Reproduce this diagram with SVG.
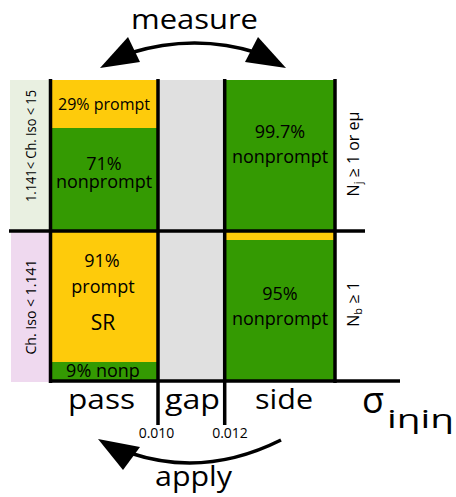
<svg xmlns="http://www.w3.org/2000/svg" width="456" height="497" viewBox="0 0 456 497">
<style>
text{font-family:"Open Sans","DejaVu Sans",sans-serif;fill:#000}
.ln{stroke:#000;stroke-width:3.5;fill:none}
.arc{stroke:#000;stroke-width:3.5;fill:none}
.yel{fill:#fecb0b}
.grn{fill:#349a02}
.big{font-size:28px;text-anchor:middle}
.box{font-size:18px;text-anchor:middle}
.sm{font-size:14px;text-anchor:middle}
</style>
<rect width="456" height="497" fill="#fff"/>
<g id="bg-left-top"><rect x="10" y="80" width="40" height="151" fill="#e9f0e1"/>
<text class="sm" font-size="15" transform="translate(36,146) rotate(-90)" textLength="112" lengthAdjust="spacingAndGlyphs">1.141&lt; Ch. Iso &lt; 15</text></g>
<g id="bg-left-bottom"><rect x="11" y="231" width="39" height="151" fill="#efd9ef"/>
<text class="sm" font-size="15" transform="translate(36,307) rotate(-90)" textLength="95" lengthAdjust="spacingAndGlyphs">Ch. Iso &lt; 1.141</text></g>
<g id="pass-top">
<rect class="yel" x="51" y="80" width="107" height="48"/>
<rect class="grn" x="51" y="128" width="107" height="103"/>
<text x="104" y="110" text-anchor="middle" font-size="16">29% prompt</text>
<text class="box" x="104" y="170">71%</text>
<text class="box" x="104" y="188">nonprompt</text>
</g>
<g id="pass-bottom">
<rect class="yel" x="51" y="231" width="107" height="131"/>
<rect class="grn" x="51" y="362" width="107" height="19"/>
<text class="box" x="102" y="267">91%</text>
<text class="box" x="103" y="293">prompt</text>
<text x="103" y="330" text-anchor="middle" font-size="21">SR</text>
<text class="box" x="103" y="377">9% nonp</text>
</g>
<g id="gap"><rect x="158" y="80" width="67" height="301" fill="#e0e0e0"/></g>
<g id="side-top">
<rect class="grn" x="225" y="80" width="110" height="151"/>
<text class="box" x="280" y="138">99.7%</text>
<text class="box" x="280" y="163">nonprompt</text>
</g>
<g id="side-bottom">
<rect class="yel" x="225" y="231" width="110" height="9"/>
<rect class="grn" x="225" y="240" width="110" height="141"/>
<text class="box" x="280" y="300">95%</text>
<text class="box" x="280" y="325">nonprompt</text>
</g>
<g id="label-right-top"><text font-size="16" text-anchor="middle" transform="translate(359,154) rotate(-90)">N<tspan font-size="11" dy="3">j</tspan><tspan dy="-3"> ≥ 1 or eμ</tspan></text></g>
<g id="label-right-bottom"><text font-size="16" text-anchor="middle" transform="translate(359,304) rotate(-90)">N<tspan font-size="11" dy="3">b</tspan><tspan dy="-3"> ≥ 1</tspan></text></g>
<g id="connectors">
<line class="ln" x1="50.5" y1="79" x2="50.5" y2="383"/>
<line class="ln" x1="158" y1="79" x2="158" y2="425"/>
<line class="ln" x1="224.7" y1="79" x2="224.7" y2="425"/>
<line class="ln" x1="335" y1="79" x2="335" y2="383"/>
<line class="ln" x1="9" y1="231" x2="365" y2="231"/>
<line class="ln" x1="49" y1="381" x2="400" y2="381"/>
<path class="arc" d="M130,53 Q195,33 258,53"/>
<polygon points="100,68 128,37 140,62"/>
<polygon points="286,68 258,37 245,62"/>
<path class="arc" d="M281,440 Q205,478 130,453"/>
<polygon points="98,439 140,447 123,470"/>
</g>
<g id="labels">
<text x="194.5" y="29" font-size="27" text-anchor="middle" textLength="127" lengthAdjust="spacingAndGlyphs">measure</text>
<text class="big" x="101.5" y="409" textLength="67" lengthAdjust="spacingAndGlyphs">pass</text>
<text class="big" x="192.5" y="409" textLength="55" lengthAdjust="spacingAndGlyphs">gap</text>
<text class="big" x="284" y="409" textLength="58" lengthAdjust="spacingAndGlyphs">side</text>
<text x="362" y="413" font-size="36">σ</text>
<text x="387" y="428" font-size="25" textLength="67" lengthAdjust="spacingAndGlyphs">iηiη</text>
<text class="sm" x="156.5" y="438">0.010</text>
<text class="sm" x="230" y="438">0.012</text>
<text class="big" x="193.5" y="486" textLength="77" lengthAdjust="spacingAndGlyphs">apply</text>
</g>
</svg>
